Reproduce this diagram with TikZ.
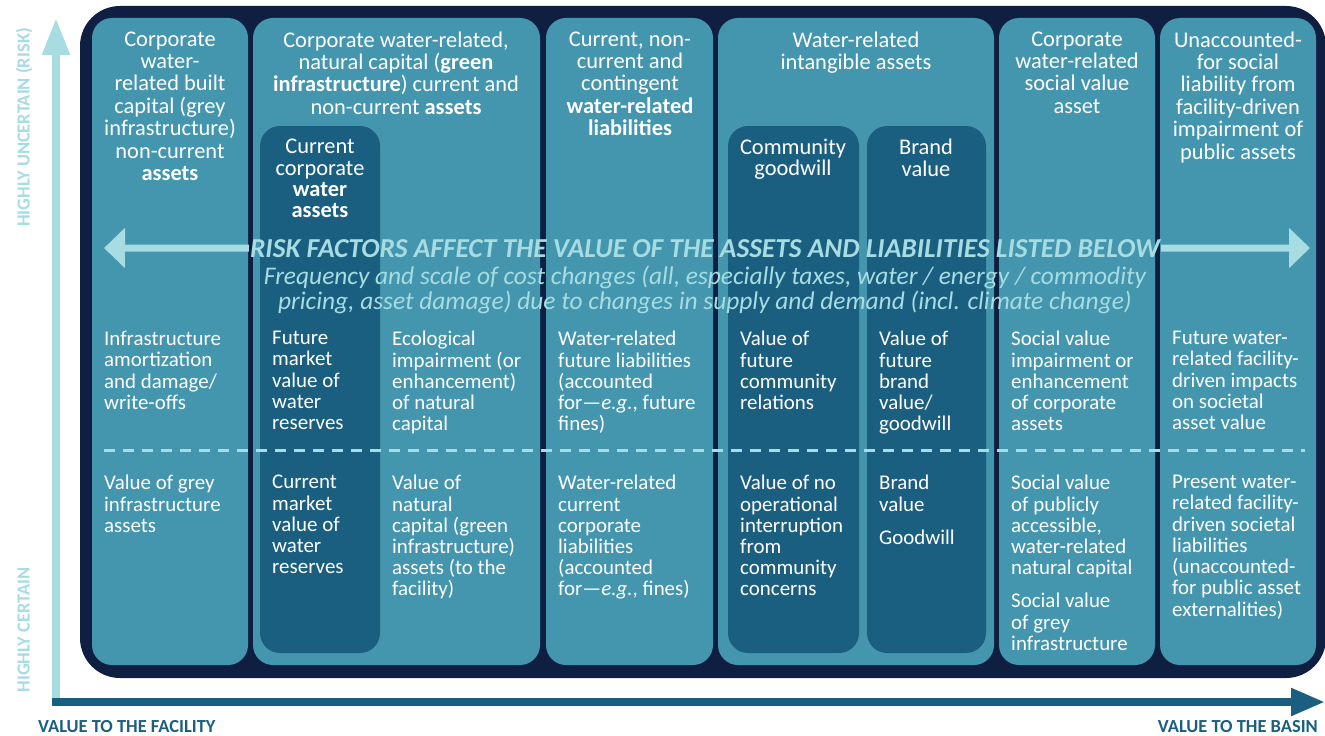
\documentclass[tikz,border=0pt]{standalone}
\usepackage{fontspec}
\setmainfont{Carlito}
\usetikzlibrary{arrows.meta}
\definecolor{frame}{HTML}{0F1F41}
\definecolor{column}{HTML}{4396AE}
\definecolor{inner}{HTML}{1B5F80}
\definecolor{aqua}{HTML}{A6DCE2}
\newcommand{\headsize}{\fontsize{22.5}{22.5}\selectfont}
\newcommand{\boxsize}{\fontsize{22.5}{21.3}\selectfont}
\newcommand{\bodysize}{\fontsize{21}{21.3}\selectfont}
\tikzset{
  panel/.style={rounded corners=20bp},
  head/.style={text=white, align=center, inner sep=0pt, anchor=north, font=\headsize, execute at begin node=\strut},
  boxhead/.style={head, font=\boxsize},
  body/.style={text=white, align=left, inner sep=0pt, anchor=north west, font=\bodysize, execute at begin node=\strut},
  axislabel/.style={font=\fontsize{18.5}{18.5}\selectfont\bfseries, inner sep=0pt},
  riskarrow/.style={aqua, line width=7bp, -{Triangle[width=39bp,length=21bp]}},
}
\begin{document}
\begin{tikzpicture}[x=1bp, y=-1bp]
  \useasboundingbox (0,0) rectangle (1325,735);

  \fill[frame, rounded corners=40bp] (80,6) rectangle (1326,678);
  \fill[column, panel] (92,18) rectangle (248,665);
  \fill[column, panel] (253,18) rectangle (540,665);
  \fill[column, panel] (546,18) rectangle (713,665);
  \fill[column, panel] (718,18) rectangle (994,665);
  \fill[column, panel] (999,18) rectangle (1155,665);
  \fill[column, panel] (1160,18) rectangle (1316,665);

  \fill[inner, panel] (260,126) rectangle (380,653);
  \fill[inner, panel] (728,126) rectangle (859,653);
  \fill[inner, panel] (867,126) rectangle (986,653);

  \node[head] (hbuilt) at (170,31.3) {Corporate\\water-\\related built\\capital (grey\\infrastructure)\\non-current\\\textbf{assets}};
  \node[head] (hnatural) at (396,31.3) {Corporate water-related,\\natural capital (\textbf{green}\\\textbf{infrastructure}) current and\\non-current \textbf{assets}};
  \node[head] (hliab) at (630,31.3) {Current, non-\\current and\\contingent\\\textbf{water-related}\\\textbf{liabilities}};
  \node[head] (hintang) at (856,31.3) {Water-related\\intangible assets};
  \node[head] (hsocial) at (1077,31.3) {Corporate\\water-related\\social value\\asset};
  \node[head] (hpublic) at (1238,31.3) {Unaccounted-\\for social\\liability from\\facility-driven\\impairment of\\public assets};

  \node[boxhead] (hwater) at (320,139.1) {Current\\corporate\\\textbf{water}\\\textbf{assets}};
  \node[boxhead] (hcommunity) at (793,139.1) {Community\\goodwill};
  \node[boxhead] (hbrand) at (926,139.1) {Brand\\value};

  \node[text=aqua, font=\fontsize{27.5}{27.5}\selectfont\bfseries\itshape, inner sep=1bp, anchor=base] (risk) at (705,257) {RISK FACTORS AFFECT THE VALUE OF THE ASSETS AND LIABILITIES LISTED BELOW};
  \node[text=aqua, font=\fontsize{25.5}{25}\selectfont\itshape, align=center, inner sep=0pt, anchor=north, execute at begin node=\strut] (riskdetail) at (705,265.5) {Frequency and scale of cost changes (all, especially taxes, water / energy / commodity\\pricing, asset damage) due to changes in supply and demand (incl. climate change)};

  \coordinate (riskleft) at (104,248);
  \coordinate (riskright) at (1310,248);
  \draw[riskarrow] (risk.west) -- (riskleft);
  \draw[riskarrow] (risk.east) -- (riskright);

  \node[body] (fbuilt) at (104,331.1) {Infrastructure\\amortization\\and damage/\\write-offs};
  \node[body] (fwater) at (272,331.1) {Future\\market\\value of\\water\\reserves};
  \node[body] (fnatural) at (392,331.1) {Ecological\\impairment (or\\enhancement)\\of natural\\capital};
  \node[body] (fliab) at (558,331.1) {Water-related\\future liabilities\\(accounted\\for---\textit{e.g.}, future\\fines)};
  \node[body] (fcommunity) at (740,331.1) {Value of\\future\\community\\relations};
  \node[body] (fbrand) at (879,331.1) {Value of\\future\\brand\\value/\\goodwill};
  \node[body] (fsocial) at (1011,331.1) {Social value\\impairment or\\enhancement\\of corporate\\assets};
  \node[body] (fpublic) at (1172,331.1) {Future water-\\related facility-\\driven impacts\\on societal\\asset value};

  \coordinate (splitleft) at (104,450);
  \coordinate (splitright) at (1305,450);
  \draw[aqua, line width=3bp, dash pattern=on 11bp off 8bp] (splitleft) -- (splitright);

  \node[body] (cbuilt) at (104,475.1) {Value of grey\\infrastructure\\assets};
  \node[body] (cwater) at (272,475.1) {Current\\market\\value of\\water\\reserves};
  \node[body] (cnatural) at (392,475.1) {Value of\\natural\\capital (green\\infrastructure)\\assets (to the\\facility)};
  \node[body] (cliab) at (558,475.1) {Water-related\\current\\corporate\\liabilities\\(accounted\\for---\textit{e.g.}, fines)};
  \node[body] (ccommunity) at (740,475.1) {Value of no\\operational\\interruption\\from\\community\\concerns};
  \node[body] (cbrand) at (879,475.1) {Brand\\value};
  \node[body] (cgoodwill) at (879,529.1) {Goodwill};
  \node[body] (csocial) at (1011,475.1) {Social value\\of publicly\\accessible,\\water-related\\natural capital};
  \node[body] (cgrey) at (1011,593.1) {Social value\\of grey\\infrastructure};
  \node[body] (cpublic) at (1172,475.1) {Present water-\\related facility-\\driven societal\\liabilities\\(unaccounted-\\for public asset\\externalities)};

  \coordinate (yorigin) at (56,702);
  \coordinate (ytip) at (56,18);
  \coordinate (xorigin) at (52,702);
  \coordinate (xtip) at (1325,702);
  \draw[aqua, line width=8bp, -{Triangle[width=26bp,length=37bp]}] (yorigin) -- (ytip);
  \draw[inner, line width=8bp, -{Triangle[width=26bp,length=34bp]}] (xorigin) -- (xtip);

  \node[axislabel, text=aqua, rotate=90, anchor=base] (uncertain) at (29.5,127.5) {HIGHLY UNCERTAIN (RISK)};
  \node[axislabel, text=aqua, rotate=90, anchor=base] (certain) at (29.5,630) {HIGHLY CERTAIN};
  \node[axislabel, text=inner, anchor=base west] (facility) at (38,732.5) {VALUE TO THE FACILITY};
  \node[axislabel, text=inner, anchor=base east] (basin) at (1318,732.5) {VALUE TO THE BASIN};
\end{tikzpicture}
\end{document}
